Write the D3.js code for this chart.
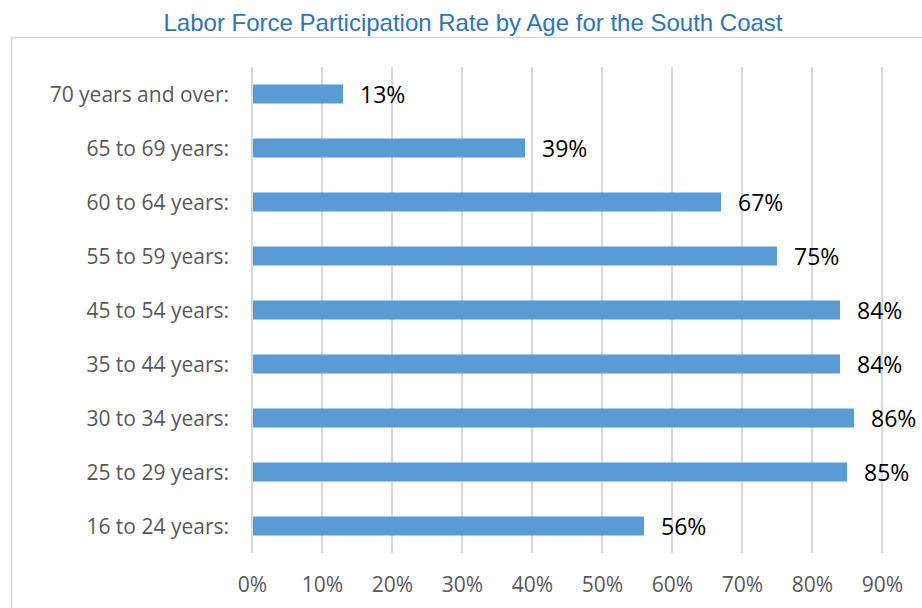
<!DOCTYPE html>
<html>
<head>
<meta charset="utf-8">
<script src="https://cdn.jsdelivr.net/npm/d3@7"></script>
<style>
  html, body { margin: 0; padding: 0; background: #fff; }
  svg { display: block; }
</style>
</head>
<body>
<svg id="chart" width="922" height="608"></svg>
<script>
// Age groups, top to bottom
const categories = [
  "70 years and over:",
  "65 to 69 years:",
  "60 to 64 years:",
  "55 to 59 years:",
  "45 to 54 years:",
  "35 to 44 years:",
  "30 to 34 years:",
  "25 to 29 years:",
  "16 to 24 years:"
];
// Participation rate (%) per age group
const rates = [13, 39, 67, 75, 84, 84, 86, 85, 56];
// Axis ticks (%)
const ticks = [0, 10, 20, 30, 40, 50, 60, 70, 80, 90];

const title = "Labor Force Participation Rate by Age for the South Coast";

const svg = d3.select("#chart");
const W = 922, H = 608;

// Chart area frame (runs off the right and bottom edges)
svg.append("rect")
  .attr("x", 11.5).attr("y", 37.5)
  .attr("width", W + 20).attr("height", H + 20)
  .attr("fill", "#fff")
  .attr("stroke", "#d9d9d9")
  .attr("stroke-width", 1.5);

// Title
svg.append("text")
  .attr("x", 473).attr("y", 31)
  .attr("text-anchor", "middle")
  .attr("font-family", "'Liberation Sans', Arial, sans-serif")
  .attr("font-size", 24)
  .attr("fill", "#2E75B6")
  .text(title);

const x = d3.scaleLinear().domain([0, 90]).range([252, 882]);
const y = d3.scaleBand().domain(categories).range([67, 553]).paddingInner(0.65).paddingOuter(0.325);

// Vertical gridlines
svg.append("g")
  .selectAll("line")
  .data(ticks)
  .join("line")
  .attr("x1", d => x(d)).attr("x2", d => x(d))
  .attr("y1", 67).attr("y2", 553)
  .attr("stroke", "#d9d9d9")
  .attr("stroke-width", 2);

// Bars
const data = categories.map((c, i) => ({ cat: c, v: rates[i] }));
svg.append("g")
  .selectAll("rect")
  .data(data)
  .join("rect")
  .attr("x", x(0) + 1)
  .attr("y", d => y(d.cat) + (y.bandwidth() - 19) / 2)
  .attr("width", d => x(d.v) - x(0) - 1)
  .attr("height", 19)
  .attr("fill", "#5B9BD5");

// Value labels
svg.append("g")
  .selectAll("text")
  .data(data)
  .join("text")
  .attr("x", d => x(d.v) + 17)
  .attr("y", d => y(d.cat) + y.bandwidth() / 2 + 8.5)
  .attr("font-family", "'Open Sans', sans-serif")
  .attr("font-size", 23)
  .attr("fill", "#000")
  .text(d => d.v + "%");

// Category labels
svg.append("g")
  .selectAll("text")
  .data(categories)
  .join("text")
  .attr("x", 229)
  .attr("y", d => y(d) + y.bandwidth() / 2 + 7.5)
  .attr("text-anchor", "end")
  .attr("font-family", "'Open Sans', sans-serif")
  .attr("font-size", 21)
  .attr("fill", "#595959")
  .text(d => d);

// Axis tick labels
const axis = d3.axisBottom(x).tickValues(ticks).tickFormat(d => d + "%").tickSize(0).tickPadding(0);
const gAxis = svg.append("g").attr("transform", "translate(0,575)").call(axis);
gAxis.select(".domain").remove();
gAxis.selectAll("text")
  .attr("dy", 0)
  .attr("y", 17)
  .attr("font-family", "'Open Sans', sans-serif")
  .attr("font-size", 21)
  .attr("fill", "#595959");
</script>
</body>
</html>
